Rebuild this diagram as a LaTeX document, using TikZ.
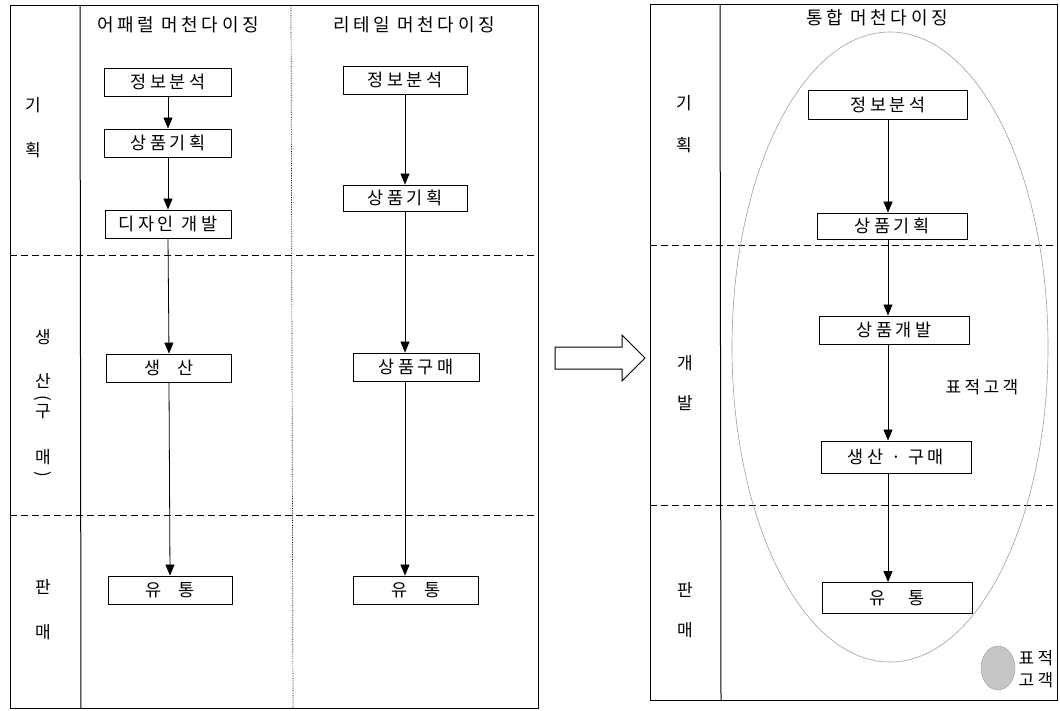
\documentclass[tikz,border=0pt]{standalone}
\usepackage{fontspec}
\newfontfamily\kr[LetterSpace=20]{Noto Sans CJK KR}
\usetikzlibrary{arrows.meta}
\begin{document}
\begin{tikzpicture}[x=1pt,y=-1pt,
  every node/.style={font=\kr\fontsize{17.5}{20}\selectfont, inner sep=0pt},
  stepbox/.style={draw, line width=0.9pt, minimum height=28pt, fill=white},
  frame/.style={line width=1pt},
  sep/.style={line width=0.9pt, dash pattern=on 7pt off 4pt},
  colsep/.style={line width=0.7pt, densely dotted},
  arr/.style={line width=0.8pt, -{Triangle[length=11pt,width=9pt]}},
  lab/.style={font=\kr\fontsize{17}{20}\selectfont},
  ttl/.style={font=\kr\fontsize{18}{20}\selectfont},
  bigarrow/.style={line width=1pt, draw, fill=white},
  target/.style={draw=gray!75, line width=0.6pt}
]
\useasboundingbox (0,0) rectangle (1060,710);

% ---------------- left panel ----------------
\draw[frame] (10,5) rectangle (538,708);
\draw[frame] (80,5) -- (81,708);
\draw[colsep] (291,5) -- (293,708);
\draw[sep] (10,255) -- (538,255);
\draw[sep] (10,515) -- (538,515);

\node[ttl] (tA) at (178,25) {어패럴 머천다이징};
\node[ttl] (tR) at (414,25) {리테일 머천다이징};

% row labels left
\node[lab] (l1) at (33,105) {기};
\node[lab] (l2) at (33,150) {획};
\node[lab] (l3) at (43,337) {생};
\node[lab] (l4) at (43,381) {산};
\node[lab,rotate=-90] (l5) at (43,398) {(};
\node[lab] (l6) at (43,412) {구};
\node[lab] (l7) at (43,457) {매};
\node[lab,rotate=-90] (l8) at (43,474) {)};
\node[lab] (l9) at (43,587) {판};
\node[lab] (l10) at (43,632) {매};

% apparel column
\node[stepbox, minimum width=127pt] (a1) at (168,82) {정보분석};
\node[stepbox, minimum width=127pt] (a2) at (168,143) {상품기획};
\node[stepbox, minimum width=126pt] (a3) at (168,224) {디자인 개발};
\node[stepbox, minimum width=125pt] (a4) at (169,368) {생\hspace{1em}산};
\node[stepbox, minimum width=124pt] (a5) at (170,590) {유\hspace{1em}통};
\draw[arr] (a1.south) -- (a2.north);
\draw[arr] (a2.south) -- (a3.north);
\draw[arr] (a3.south) -- (a4.north);
\draw[arr] (a4.south) -- (a5.north);

% retail column
\node[stepbox, minimum width=124pt] (r1) at (405,80) {정보분석};
\node[stepbox, minimum width=124pt, minimum height=26pt] (r2) at (405,198) {상품기획};
\node[stepbox, minimum width=126pt] (r3) at (416,367) {상품구매};
\node[stepbox, minimum width=125pt] (r4) at (416,590) {유\hspace{1em}통};
\draw[arr] (r1.south) -- (r2.north);
\draw[arr] (r2.south) -- (r3.north -| r2.south);
\draw[arr] (r3.south -| r2.south) -- (r4.north -| r2.south);

% ---------------- block arrow ----------------
\draw[bigarrow] (555,347) coordinate (ba) -- (622,347) -- (622,335) -- (645,358) -- (622,381) -- (622,369) -- (555,369) -- cycle;

% ---------------- right panel ----------------
\draw[frame] (650,4) rectangle (1057,700);
\draw[frame] (720,4) -- (721,700);
\draw[sep] (650,245) -- (1057,245);
\draw[sep] (650,505) -- (1057,505);

\node[ttl] (tI) at (877,18) {통합 머천다이징};

\draw[target] (890,347) ellipse [x radius=158, y radius=315];

\node[lab] (m1) at (684,103) {기};
\node[lab] (m2) at (684,145) {획};
\node[lab] (m3) at (685,363) {개};
\node[lab] (m4) at (685,403) {발};
\node[lab] (m5) at (685,590) {판};
\node[lab] (m6) at (685,630) {매};

\node[stepbox, minimum width=159pt, minimum height=29pt] (i1) at (888,105) {정보분석};
\node[stepbox, minimum width=150pt, minimum height=26pt] (i2) at (892,226) {상품기획};
\node[stepbox, minimum width=150pt] (i3) at (894,330) {상품개발};
\node[stepbox, minimum width=150pt, minimum height=32pt] (i4) at (896,457) {생산 · 구매};
\node[stepbox, minimum width=150pt, minimum height=31pt] (i5) at (897,598) {유\hspace{1.3em}통};
\draw[arr] (i1.south) -- (i2.north -| i1.south);
\draw[arr] (i2.south -| i1.south) -- (i3.north -| i1.south);
\draw[arr] (i3.south -| i1.south) -- (i4.north -| i1.south);
\draw[arr] (i4.south -| i1.south) -- (i5.north -| i1.south);

\node[lab] (tg) at (982,387) {표적고객};

% legend
\draw[draw=gray!70, fill=gray!45, line width=0.5pt] (998,668) ellipse [x radius=17, y radius=22];
\node[lab, align=left, font=\kr\fontsize{17}{22}\selectfont] (lg) at (1036,669) {표적\\고객};
\end{tikzpicture}
\end{document}
